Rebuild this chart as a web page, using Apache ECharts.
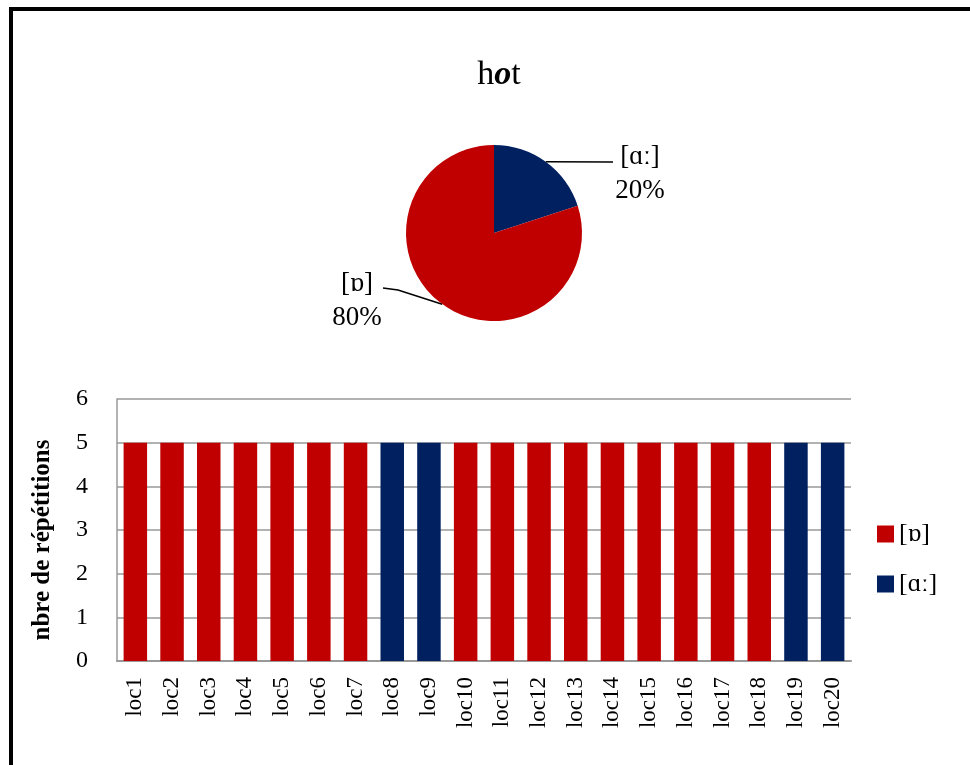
<!DOCTYPE html>
<html><head><meta charset="utf-8">
<script src="https://cdn.jsdelivr.net/npm/echarts@6/dist/echarts.min.js"></script>
<style>html,body{margin:0;padding:0;background:#fff;}
#chart{width:970px;height:765px;position:absolute;left:0;top:0;}
#frame{position:absolute;left:9px;top:7px;right:0;bottom:0;border-top:4px solid #000;border-left:4px solid #000;pointer-events:none;}
</style></head><body><div id="chart"></div><div id="frame"></div>
<script>
const categories = ['loc1','loc2','loc3','loc4','loc5','loc6','loc7','loc8','loc9','loc10','loc11','loc12','loc13','loc14','loc15','loc16','loc17','loc18','loc19','loc20'];
const seriesNames = ['[ɒ]', '[ɑː]'];
const valuesO = [5,5,5,5,5,5,5,null,null,5,5,5,5,5,5,5,5,5,null,null];
const valuesA = [null,null,null,null,null,null,null,5,5,null,null,null,null,null,null,null,null,null,5,5];
const pieNames = ['[ɑː]', '[ɒ]'];
const pieValues = [20, 80];
const yMin = 0, yMax = 6, yStep = 1;

const RED = '#C00000', NAVY = '#002060';
const FONT = '"Liberation Serif", "DejaVu Serif", serif';

const chart = echarts.init(document.getElementById('chart'));
chart.setOption({
  animation: false,
  textStyle: {fontFamily: FONT, color: '#000'},
  title: {
    text: '{n|h}{b|o}{n|t}',
    left: 494, top: 53, textAlign: 'center',
    textStyle: {
      fontWeight: 'normal', fontSize: 34,
      rich: {
        n: {fontSize: 34, fontFamily: FONT, fontWeight: 'normal', color: '#000'},
        b: {fontSize: 34, fontFamily: FONT, fontWeight: 'bold', fontStyle: 'italic', color: '#000'}
      }
    }
  },
  legend: {
    data: seriesNames,
    orient: 'vertical', left: 872, top: 516,
    itemWidth: 17, itemHeight: 17, itemGap: 24, icon: 'rect',
    textStyle: {fontSize: 26, fontFamily: FONT, color: '#000', lineHeight: 26}
  },
  grid: {left: 117, right: 119, top: 399, bottom: 104, containLabel: false},
  xAxis: {
    type: 'category', data: categories,
    axisTick: {show: false},
    axisLine: {lineStyle: {color: '#999', width: 2}},
    axisLabel: {rotate: 90, fontSize: 23, margin: 16, color: '#000', fontFamily: FONT}
  },
  yAxis: {
    type: 'value', min: yMin, max: yMax, interval: yStep,
    name: 'nbre de répétitions', nameLocation: 'middle', nameGap: 62,
    nameTextStyle: {fontSize: 25, fontWeight: 'bold', fontFamily: FONT, color: '#000', padding: [0, 20, 0, 0]},
    axisLine: {show: true, lineStyle: {color: '#999', width: 1.5}},
    axisTick: {show: false},
    splitLine: {lineStyle: {color: '#999', width: 1.5}},
    axisLabel: {fontSize: 24, margin: 29, color: '#000', fontFamily: FONT}
  },
  series: [
    {name: seriesNames[0], type: 'bar', data: valuesO, barWidth: '64%', barGap: '-100%', itemStyle: {color: RED}},
    {name: seriesNames[1], type: 'bar', data: valuesA, barWidth: '64%', barGap: '-100%', itemStyle: {color: NAVY}},
    {
      name: 'pie', type: 'pie', center: [494, 233], radius: 88,
      startAngle: 90, clockwise: true,
      data: pieNames.map((n, i) => ({name: n, value: pieValues[i], itemStyle: {color: i === 0 ? NAVY : RED}})),
      label: {show: true, formatter: '{b}\n{d}%', fontSize: 27, lineHeight: 34, fontFamily: FONT, color: '#000'},
      labelLine: {show: true, length: 10, length2: 10, lineStyle: {color: '#000', width: 1.5}},
      labelLayout: function (p) {
        const s = p.labelLinePoints ? p.labelLinePoints[0] : null;
        if (p.dataIndex === 0) {
          return {x: 640, y: 174, align: 'center', verticalAlign: 'middle',
            labelLinePoints: s ? [s, [612, 162], [613, 162]] : undefined};
        }
        return {x: 357, y: 301, align: 'center', verticalAlign: 'middle',
          labelLinePoints: s ? [s, [398, 290], [383, 288]] : undefined};
      }
    }
  ]
});
</script></body></html>
